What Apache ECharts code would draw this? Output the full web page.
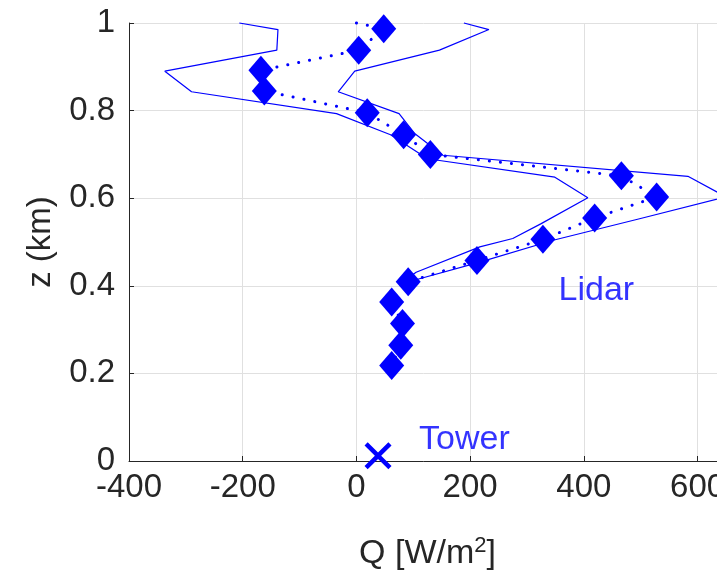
<!DOCTYPE html>
<html>
<head>
<meta charset="utf-8">
<script src="https://cdn.jsdelivr.net/npm/echarts@6/dist/echarts.min.js"></script>
<style>html,body{margin:0;padding:0;background:#fff;}#c{width:717px;height:576px;}</style>
</head>
<body>
<div id="c"></div>
<script>
// Lidar profile (diamonds), heights in km, Q in W/m2
var zLidar = [0.987, 0.938, 0.892, 0.845, 0.795, 0.745, 0.700, 0.651, 0.603, 0.555, 0.506, 0.458, 0.409, 0.363, 0.314, 0.264, 0.218];
var qLidar = [48, 4, -168, -162, 19, 83, 130, 466, 528, 419, 328, 212, 91, 62, 81, 78, 62];
// dotted connecting line (starts at top)
var zDotted = [1.0, 0.987, 0.938, 0.892, 0.845, 0.795, 0.745, 0.700, 0.651, 0.603, 0.555, 0.506, 0.458, 0.409, 0.363, 0.314, 0.264, 0.218];
var qDotted = [0, 48, 4, -168, -162, 19, 83, 130, 466, 528, 419, 328, 212, 91, 62, 81, 78, 62];
// lower bound
var zLow = [1.0, 0.985, 0.938, 0.89, 0.843, 0.793, 0.745, 0.69, 0.648, 0.601, 0.542, 0.508, 0.489, 0.431, 0.41];
var qLow = [-206, -138, -140, -337, -290, -35, 60, 125, 349, 407, 325, 275, 217, 105, 82];
// upper bound
var zHigh = [1.0, 0.985, 0.938, 0.89, 0.843, 0.793, 0.747, 0.698, 0.650, 0.603, 0.553, 0.504, 0.454, 0.416, 0.41];
var qHigh = [189, 233, 146, -3, -32, 75, 103, 152, 583, 650, 498, 346, 217, 111, 95];
// tower
var qTower = [38];
var zTower = [0.012];
// annotations
var annoNames = ['Lidar', 'Tower'];
var annoQ = [422, 190];
var annoZ = [0.39, 0.048];
// ticks
var xTicks = [-400, -200, 0, 200, 400, 600];
var xTickLabels = ['-400', '-200', '0', '200', '400', '600'];
var yTicks = [0, 0.2, 0.4, 0.6, 0.8, 1];
var yTickLabels = ['0', '0.2', '0.4', '0.6', '0.8', '1'];

function pairs(xs, ys) { return xs.map(function (x, i) { return [x, ys[i]]; }); }
function lab(ticks, labels) {
  return function (v) {
    for (var i = 0; i < ticks.length; i++) if (Math.abs(ticks[i] - v) < 1e-6) return labels[i];
    return '';
  };
}

var FONT = 'Liberation Sans';
var BLUE = '#0000ff';
var AX = '#262626';
var XPATH = 'path://M0,2.8L2.8,0L12,9.2L21.2,0L24,2.8L14.8,12L24,21.2L21.2,24L12,14.8L2.8,24L0,21.2L9.2,12Z';

var chart = echarts.init(document.getElementById('c'), null, { renderer: 'canvas' });
chart.setOption({
  animation: false,
  backgroundColor: '#fff',
  textStyle: { fontFamily: FONT },
  grid: { left: 129, top: 23, width: 597, height: 438, containLabel: false, outerBoundsMode: 'none' },
  xAxis: {
    type: 'value', min: -400, max: 650, interval: 200,
    axisLine: { show: true, onZero: false, lineStyle: { color: AX, width: 1 } },
    axisTick: { show: true, inside: true, length: 5, lineStyle: { color: AX } },
    axisLabel: { color: AX, fontSize: 33, fontFamily: FONT, margin: 10, showMaxLabel: false, formatter: lab(xTicks, xTickLabels) },
    splitLine: { show: true, lineStyle: { color: '#e0e0e0', width: 1 } },
    name: 'Q [W/m{sup|2}]', nameLocation: 'middle', nameGap: 74,
    nameTextStyle: { color: AX, fontSize: 34, fontFamily: FONT,
      rich: { sup: { fontSize: 22, fontFamily: FONT, color: AX, verticalAlign: 'top', padding: [0, 0, 16, 0] } } }
  },
  yAxis: {
    type: 'value', min: 0, max: 1, interval: 0.2,
    axisLine: { show: true, onZero: false, lineStyle: { color: AX, width: 1 } },
    axisTick: { show: true, inside: true, length: 5, lineStyle: { color: AX } },
    axisLabel: { color: AX, fontSize: 33, fontFamily: FONT, margin: 14, formatter: lab(yTicks, yTickLabels) },
    splitLine: { show: true, lineStyle: { color: '#e0e0e0', width: 1 } },
    name: 'z (km)', nameLocation: 'middle', nameGap: 72, nameRotate: 90,
    nameTextStyle: { color: AX, fontSize: 33, fontFamily: FONT }
  },
  series: [
    { type: 'line', data: pairs(qLow, zLow), symbol: 'none', lineStyle: { color: BLUE, width: 1.2 }, z: 2, clip: false },
    { type: 'line', data: pairs(qHigh, zHigh), symbol: 'none', lineStyle: { color: BLUE, width: 1.2 }, z: 2, clip: false },
    { type: 'line', data: pairs(qDotted, zDotted), symbol: 'none', lineStyle: { color: BLUE, width: 3, type: [0.1, 11], cap: 'round' }, z: 3, clip: false },
    { type: 'scatter', data: pairs(qLidar, zLidar), symbol: 'diamond', symbolSize: [25, 29], itemStyle: { color: BLUE, opacity: 1 }, z: 4, clip: false },
    { type: 'scatter', data: pairs(qTower, zTower), symbol: XPATH, symbolSize: 27, symbolKeepAspect: true,
      itemStyle: { color: BLUE, opacity: 1 }, z: 4, clip: false },
    { type: 'scatter', symbolSize: 0, z: 5, clip: false,
      data: annoNames.map(function (n, i) { return { name: n, value: [annoQ[i], annoZ[i]] }; }),
      label: { show: true, position: 'inside', formatter: '{b}', color: BLUE, fontSize: 34, fontFamily: FONT, textBorderWidth: 0, textBorderColor: 'transparent' } }
  ]
});
</script>
</body>
</html>
